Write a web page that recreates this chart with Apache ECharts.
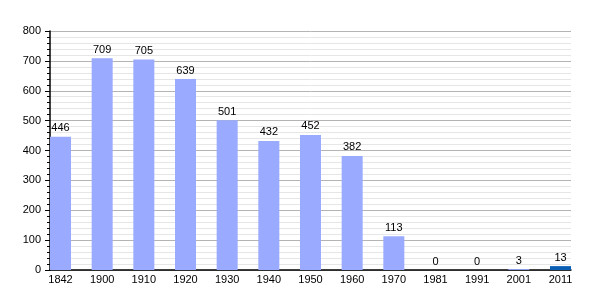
<!DOCTYPE html>
<html><head><meta charset="utf-8">
<script src="https://cdn.jsdelivr.net/npm/echarts@6/dist/echarts.min.js"></script>
<style>html,body{margin:0;padding:0;background:#fff}#c{width:600px;height:300px}</style>
</head><body><div id="c"></div>
<script>
const years = ['1842','1900','1910','1920','1930','1940','1950','1960','1970','1981','1991','2001','2011'];
const population = [446,709,705,639,501,432,452,382,113,0,0,3,13];
const yTicks = [0,100,200,300,400,500,600,700,800];
const lightColor = '#99aaff';
const lastColor = '#0a5fb4';

const chart = echarts.init(document.getElementById('c'), null, {renderer:'canvas'});
const font = 'Liberation Sans, Arial, sans-serif';
chart.setOption({
  animation:false,
  grid:[
    {left:50, right:29, top:31, bottom:30, containLabel:false},
    {left:60.5, right:39.5, top:31, bottom:30, containLabel:false}
  ],
  xAxis:[
    {gridIndex:0, type:'category', data:years, boundaryGap:true,
     axisLine:{show:true, lineStyle:{color:'#000', width:1.5}}, axisTick:{show:false}, axisLabel:{show:false}, splitLine:{show:false}},
    {gridIndex:1, type:'category', data:years, boundaryGap:false,
     axisLine:{show:false}, axisTick:{show:false},
     axisLabel:{show:true, color:'#000', fontFamily:font, fontSize:11, margin:4, interval:0}}
  ],
  yAxis:[
    {gridIndex:0, type:'value', min:yTicks[0], max:yTicks[yTicks.length-1], interval:100,
     axisLine:{show:true, lineStyle:{color:'#000', width:1.5}},
     axisTick:{show:true, length:5, lineStyle:{color:'#000'}},
     minorTick:{show:true, splitNumber:5, length:3, lineStyle:{color:'#000'}},
     axisLabel:{color:'#000', fontFamily:font, fontSize:11, margin:9},
     splitLine:{show:true, lineStyle:{color:'#b4b4b4', width:1}},
     minorSplitLine:{show:true, lineStyle:{color:'#e6e6e6', width:1}}},
    {gridIndex:1, type:'value', min:yTicks[0], max:yTicks[yTicks.length-1], interval:100, show:false}
  ],
  series:[{
    type:'bar', xAxisIndex:1, yAxisIndex:1, barWidth:21, clip:false,
    data: population.map((v,i)=>({value:v, itemStyle:{color: i===population.length-1 ? lastColor : lightColor}})),
    label:{show:true, position:'top', color:'#000', fontFamily:font, fontSize:11, distance:3}
  }]
});
</script></body></html>
